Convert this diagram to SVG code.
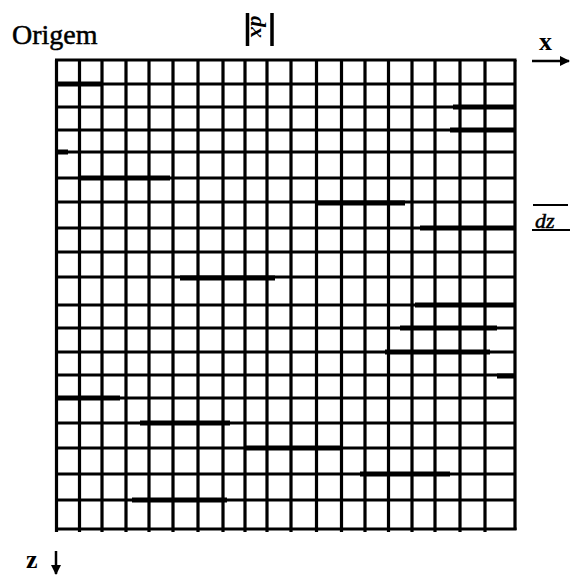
<svg xmlns="http://www.w3.org/2000/svg" width="572" height="576" viewBox="0 0 572 576">
<defs>
<style>
.g{stroke:#000;stroke-width:3.2;fill:none}
.t{stroke:#000;stroke-width:5;fill:none}
.lbl{font-family:"Liberation Serif","Times New Roman",serif;fill:#000}
.ax{stroke:#000;stroke-width:2.5;fill:none}
</style>
<marker id="ah" viewBox="0 0 10 10" refX="9" refY="5" markerWidth="4" markerHeight="4" orient="auto" markerUnits="strokeWidth">
<path d="M0,0 L10,5 L0,10 z" fill="#000"/>
</marker>
</defs>
<rect width="572" height="576" fill="#fff"/>
<g id="grid">
<g id="vlines" class="g">
<path d="M56.5,60V532M79.5,60V532M102,60V532M126,60V532M149,60V532M173,60V532M198,60V532M223,60V532M245,60V532M267,60V532M291,60V532M316.5,60V532M341.5,60V532M365,60V532M388.5,60V532M412,60V532M435,60V532M460,60V532M485,60V532M515,60V530"/>
</g>
<g id="hlines" class="g">
<path d="M55,60H516.5M55,84H516M55,107H516M55,130H516M55,152H516M55,178H516M55,202H516M55,228H516M55,252H516M55,277H516M55,305H516M55,328H516M55,352H516M55,375H516M55,398H516M55,423H516M55,448H516M55,474H516M55,500H516M55,529H516.5"/>
</g>
<g id="thick" class="t">
<path d="M56,84H103M453,107H514M450,130H514M56,152H68M78,178H170M315,203H405M420,228H514M180,278H275M415,305H514M400,328H497M385,352H490M497,376H514M56,398H120M140,423H230M245,448H340M360,474H450M132,500H227"/>
</g>
</g>
<g id="origem"><text class="lbl" x="12" y="44" font-size="28" stroke="#000" stroke-width="0.5">Origem</text></g>
<g id="dx">
<path d="M247.5,13V46M272,13V46" stroke="#000" stroke-width="3.5"/>
<text class="lbl" transform="translate(251,16) rotate(90)" font-size="22" font-style="italic" font-weight="bold">dx</text>
</g>
<g id="xaxis">
<text class="lbl" x="539" y="50" font-size="26" font-weight="bold">x</text>
</g>
<g id="dz">
<path d="M533,205H568M532,230H570" stroke="#000" stroke-width="2"/>
<text class="lbl" x="535" y="228" font-size="22" font-style="italic" stroke="#000" stroke-width="0.5">dz</text>
</g>
<g id="zaxis">
<text class="lbl" x="26" y="568" font-size="26" font-weight="bold">z</text>
</g>
<g id="connectors">
<path class="ax" d="M532,61H569" marker-end="url(#ah)"/>
<path class="ax" d="M56,551V574" marker-end="url(#ah)"/>
</g>
</svg>
